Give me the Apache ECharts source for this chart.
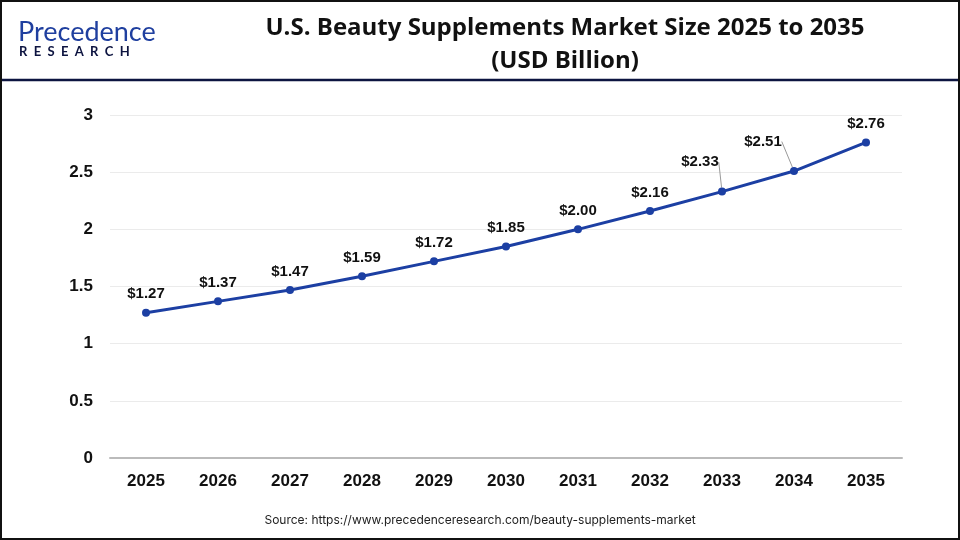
<!DOCTYPE html>
<html><head><meta charset="utf-8">
<script src="https://cdn.jsdelivr.net/npm/echarts@6/dist/echarts.min.js"></script>
<style>html,body{margin:0;padding:0;background:#fff}#c{width:960px;height:540px}</style>
</head><body><div id="c"></div>
<script>
const categories = ['2025','2026','2027','2028','2029','2030','2031','2032','2033','2034','2035'];
const values = [1.27,1.37,1.47,1.59,1.72,1.85,2.00,2.16,2.33,2.51,2.76];
const yTicks = [0,0.5,1,1.5,2,2.5,3];
const labelShift = {8:[-22,-11],9:[-31,-11]};

const seriesData = values.map((v,i)=>({value:v,labelLine:{show:!!labelShift[i]}}));

const chart = echarts.init(document.getElementById('c'));
chart.setOption({
  animation:false,
  title:{
    text:'U.S. Beauty Supplements Market Size 2025 to 2035\n(USD Billion)',
    left:560, top:7, textAlign:'center',
    textStyle:{fontFamily:'Open Sans',fontWeight:'bold',fontSize:24,lineHeight:33,color:'#111'}
  },
  grid:{left:110,right:58,top:115,bottom:82},
  xAxis:{type:'category',data:categories,boundaryGap:true,
    axisLine:{lineStyle:{color:'#bbb',width:2}},axisTick:{show:false},
    axisLabel:{color:'#111',fontWeight:'bold',fontSize:17,fontFamily:'Liberation Sans',margin:15}},
  yAxis:{type:'value',min:0,max:3,interval:0.5,
    axisLine:{show:false},axisTick:{show:false},
    splitLine:{lineStyle:{color:'#ebebeb'}},
    axisLabel:{color:'#111',fontWeight:'bold',fontSize:17,fontFamily:'Liberation Sans',margin:17,
      formatter:v=>yTicks.includes(v)?String(v):''}},
  series:[{
    type:'line',data:seriesData,symbol:'circle',symbolSize:8,
    lineStyle:{color:'#1c3fa3',width:3},itemStyle:{color:'#1c3fa3'},
    label:{show:true,position:'top',distance:7,color:'#111',fontWeight:'bold',fontSize:15,
      fontFamily:'Liberation Sans',formatter:p=>'$'+p.value.toFixed(2)},
    labelLine:{lineStyle:{color:'#999',width:1}},
    labelLayout:function(p){const s=labelShift[p.dataIndex];return s?{dx:s[0],dy:s[1]}:{};}
  }],
  graphic:[
    {type:'rect',shape:{x:1,y:1,width:958,height:538},style:{fill:'none',stroke:'#111',lineWidth:2},z:10},
    {type:'line',shape:{x1:0,y1:80,x2:960,y2:80},style:{stroke:'#0d1440',lineWidth:2.5}},
    {type:'text',left:18,top:19,style:{text:'Precedence',fontFamily:'Lato',fontSize:27,fontWeight:'normal',fill:'#1f3f9f'}},
    {type:'text',left:19,top:45,style:{text:'R  E  S  E  A  R  C  H',fontFamily:'Lato',fontSize:13,fontWeight:'bold',fill:'#0d1440'}},
    {type:'text',left:'center',top:514,style:{text:'Source: https://www.precedenceresearch.com/beauty-supplements-market',fontFamily:'Inter',fontSize:12,fill:'#222'}}
  ]
});
</script></body></html>
